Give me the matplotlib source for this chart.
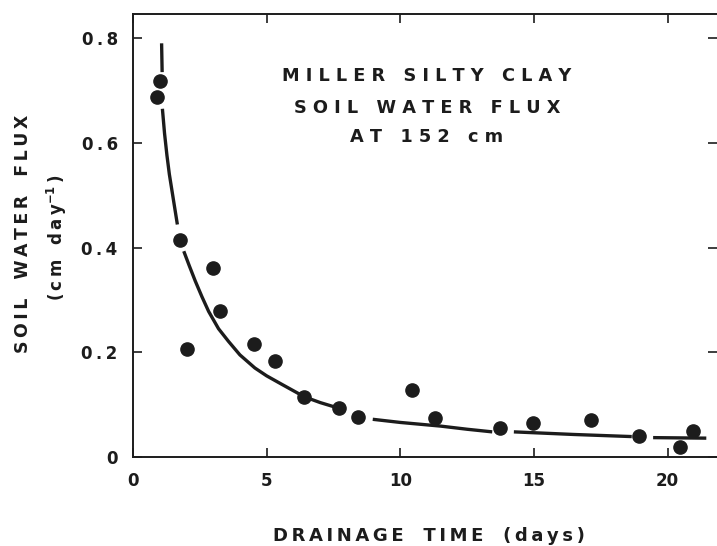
#!/bin/python3

# Miller silty clay - soil water flux at 152 cm vs drainage time.
# Scattered measurements plus the hand drawn fitted curve (broken where it
# runs through the dots, as in the original figure).

import numpy as np
import matplotlib.pyplot as plt

# measured points (days, cm/day)
days = [0.90, 1.00, 1.75, 2.99, 3.26, 2.03, 4.53, 5.31, 6.41, 7.71, 8.43,
        10.44, 11.30, 13.72, 14.97, 17.14, 18.93, 20.48, 20.95]
flux = [0.687, 0.719, 0.414, 0.360, 0.279, 0.207, 0.216, 0.184, 0.115, 0.093,
        0.077, 0.128, 0.074, 0.056, 0.065, 0.070, 0.040, 0.020, 0.050]

# fitted curve, nan marks a gap in the drawn line
curve_days = [1.07, 1.09, np.nan,
              1.10, 1.18, 1.27, 1.36, 1.46, 1.56, 1.66, np.nan,
              1.90, 2.10, 2.33, 2.58, 2.83, 3.20, 3.57, 4.00, 4.56, 5.00,
              5.56, 6.41, 7.00, 7.71, np.nan,
              8.97, 10.00, 11.51, 12.50, 13.44, np.nan,
              14.25, 16.50, 18.66, np.nan,
              19.46, 21.45]
curve_flux = [0.790, 0.735, np.nan,
              0.665, 0.618, 0.576, 0.540, 0.508, 0.476, 0.444, np.nan,
              0.393, 0.366, 0.336, 0.306, 0.278, 0.245, 0.221, 0.195, 0.170, 0.155,
              0.139, 0.115, 0.104, 0.093, np.nan,
              0.072, 0.066, 0.059, 0.053, 0.048, np.nan,
              0.048, 0.043, 0.039, np.nan,
              0.037, 0.036]

xticks = [0, 5, 10, 15, 20]
yticks = [0, 0.2, 0.4, 0.6, 0.8]
ytick_labels = ['0', '0\u2009.\u20092', '0\u2009.\u20094', '0\u2009.\u20096', '0\u2009.\u20098']

title_lines = ['MILLER SILTY CLAY', 'SOIL WATER FLUX', 'AT 152 cm']

INK = '#1c1c1c'
W, H = 717, 546


def spaced(s, sep=' ', gap=' '):
	# old lettering guide look: wide letter spacing, wider word gaps
	return sep.join(gap if c == ' ' else c for c in s)


def draw():
	plt.rcParams['font.family'] = 'DejaVu Sans'
	plt.rcParams['mathtext.fontset'] = 'dejavusans'
	fig = plt.figure(figsize=(W / 100, H / 100), dpi=100)
	ax = fig.add_axes([133 / W, 1 - 457 / H, 1 - 133 / W, (457 - 14) / H])

	ax.plot(curve_days, curve_flux, color=INK, lw=2.4, solid_capstyle='butt')
	ax.plot(days, flux, 'o', color=INK, ms=9.5, mec=INK, zorder=3)

	ax.set_xlim(0.08, 21.85)
	ax.set_ylim(0, 0.846)
	ax.set_xticks(xticks)
	ax.set_xticklabels([str(t) for t in xticks])
	ax.set_yticks(yticks)
	ax.set_yticklabels(ytick_labels)

	for side in ['left', 'bottom', 'top']:
		ax.spines[side].set_linewidth(1.4)
		ax.spines[side].set_color(INK)
	ax.spines['right'].set_visible(False)

	ax.tick_params(direction='in', length=6.5, width=1.2, color=INK,
	               top=True, right=True, labelsize=12, labelcolor=INK)
	ax.tick_params(axis='x', pad=11)
	ax.tick_params(axis='y', pad=11)
	for lab in ax.get_xticklabels() + ax.get_yticklabels():
		lab.set_fontweight('bold')

	# title block inside the plot
	for txt, y in zip(title_lines, [76, 108, 137]):
		fig.text(427 / W, 1 - y / H, spaced(txt), ha='center', va='center',
		         fontsize=12.8, fontweight='bold', color=INK)

	fig.text(429 / W, 1 - 536 / H, spaced('DRAINAGE TIME (days)', '\u2009', '  '),
	         ha='center', va='center', fontsize=13, fontweight='bold', color=INK)
	fig.text(23 / W, 1 - 234 / H, spaced('SOIL WATER FLUX', '\u2009', '  '), rotation=90,
	         ha='center', va='center', fontsize=12.5, fontweight='bold', color=INK)
	fig.text(57 / W, 1 - 238 / H,
	         '(\u2009c\u2009m  \u2009d\u2009a\u2009y$^{\\mathbf{-1}}$\u2009)', rotation=90,
	         ha='center', va='center', fontsize=12, fontweight='bold', color=INK)

	fig.savefig('out.png', dpi=100)


draw()
plt.close()
